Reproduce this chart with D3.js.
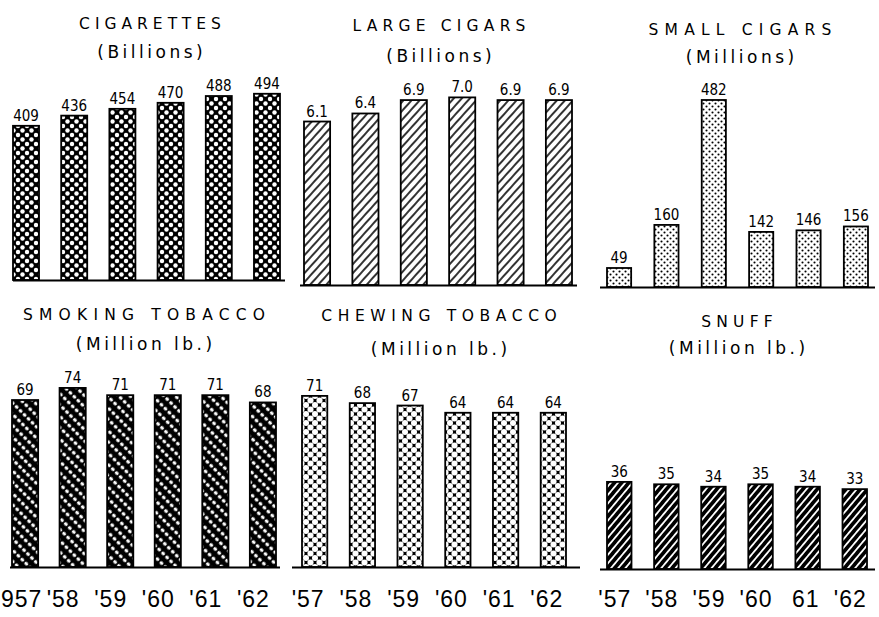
<!DOCTYPE html>
<html><head><meta charset="utf-8">
<script src="https://cdn.jsdelivr.net/npm/d3@7"></script>
<style>body{margin:0;background:#fff}svg{display:block}</style>
</head><body><svg id="c" width="879" height="617"></svg>
<script>
// ---- data ----
const years = [1957, 1958, 1959, 1960, 1961, 1962];
const cigarettes = [409, 436, 454, 470, 488, 494];
const largeCigars = [6.1, 6.4, 6.9, 7.0, 6.9, 6.9];
const smallCigars = [49, 160, 482, 142, 146, 156];
const smokingTobacco = [69, 74, 71, 71, 71, 68];
const chewingTobacco = [71, 68, 67, 64, 64, 64];
const snuff = [36, 35, 34, 35, 34, 33];
const titles = ["CIGARETTES", "LARGE CIGARS", "SMALL CIGARS", "SMOKING TOBACCO", "CHEWING TOBACCO", "SNUFF"];
const units = ["(Billions)", "(Billions)", "(Millions)", "(Million lb.)", "(Million lb.)", "(Million lb.)"];
const yearLabelsSmoking = ["957", "'58", "'59", "'60", "'61", "'62"];
const yearLabelsChewing = ["'57", "'58", "'59", "'60", "'61", "'62"];
const yearLabelsSnuff = ["'57", "'58", "'59", "'60", "61", "'62"];

// ---- layout ----
const panels = [
  {values: cigarettes, fmt: d3.format("d"), x0: 13, x1: 280, pad: 0.46, base: 280, k: 0.377, tx: 150, ty: 29, sy: 58, ls: 5, fill: "pCig", ax: [13, 285]},
  {values: largeCigars, fmt: d3.format(".1f"), x0: 304, x1: 572, pad: 0.46, base: 285, k: 26.8, tx: 439, ty: 31, sy: 62, ls: 5.2, fill: "pHatch", ax: [300, 577]},
  {values: smallCigars, fmt: d3.format("d"), x0: 607, x1: 868, pad: 0.49, base: 287, k: 0.388, tx: 740, ty: 35, sy: 63, ls: 6.2, fill: "pDots", ax: [600, 875]},
  {values: smokingTobacco, fmt: d3.format("d"), x0: 12, x1: 276, pad: 0.45, base: 567, k: 2.42, tx: 144, ty: 320, sy: 350, ls: 6.2, fill: "pSmoke", ax: [10, 280], yl: yearLabelsSmoking, yo: 6},
  {values: chewingTobacco, fmt: d3.format("d"), x0: 302, x1: 566, pad: 0.47, base: 567, k: 2.41, tx: 439, ty: 321, sy: 355, ls: 5.6, fill: "pChew", ax: [292, 580], yl: yearLabelsChewing, yo: 9},
  {values: snuff, fmt: d3.format("d"), x0: 607, x1: 867, pad: 0.48, base: 569, k: 2.42, tx: 737, ty: 327, sy: 354, ls: 5.2, fill: "pSnuff", ax: [600, 875], yl: yearLabelsSnuff, yo: 11}
];

const svg = d3.select("#c");
const defs = svg.append("defs");

function pat(id, w, h, tf) {
  const p = defs.append("pattern").attr("id", id).attr("patternUnits", "userSpaceOnUse")
    .attr("width", w).attr("height", h);
  if (tf) p.attr("patternTransform", tf);
  return p;
}
// cigarettes: black with white dots in diagonal lattice
let p = pat("pCig", 9, 9);
p.append("rect").attr("width", 9).attr("height", 9).attr("fill", "#000");
[[0,0],[9,0],[0,9],[9,9],[4.5,4.5]].forEach(c => p.append("circle").attr("cx", c[0]).attr("cy", c[1]).attr("r", 2.2).attr("fill", "#fff"));

// large cigars: diagonal hatch
p = pat("pHatch", 6, 6, "rotate(42)");
p.append("rect").attr("width", 6).attr("height", 6).attr("fill", "#fff");
p.append("line").attr("x1", 1).attr("x2", 1).attr("y1", 0).attr("y2", 6).attr("stroke", "#000").attr("stroke-width", 1.6);

// small cigars: fine dots
p = pat("pDots", 6, 6);
p.append("rect").attr("width", 6).attr("height", 6).attr("fill", "#fff");
[[1.5,1.5],[4.5,4.5]].forEach(c => p.append("circle").attr("cx", c[0]).attr("cy", c[1]).attr("r", 1.05).attr("fill", "#000"));

// smoking tobacco: black with white dashes along "\" diagonals
p = pat("pSmoke", 8, 5.6, "rotate(-45)");
p.append("rect").attr("width", 8).attr("height", 5.6).attr("fill", "#000");
p.append("ellipse").attr("cx", 4).attr("cy", 2.8).attr("rx", 1.7).attr("ry", 2.0).attr("fill", "#fff");

// chewing tobacco: white circles on black lattice
p = pat("pChew", 9, 9);
p.append("rect").attr("width", 9).attr("height", 9).attr("fill", "#000");
[[0,0],[9,0],[0,9],[9,9],[4.5,4.5]].forEach(c => p.append("circle").attr("cx", c[0]).attr("cy", c[1]).attr("r", 3.05).attr("fill", "#fff"));

// snuff: black with white "/" stripes
p = pat("pSnuff", 5.5, 5.5, "rotate(40)");
p.append("rect").attr("width", 5.5).attr("height", 5.5).attr("fill", "#000");
p.append("line").attr("x1", 2.75).attr("x2", 2.75).attr("y1", 0).attr("y2", 5.5).attr("stroke", "#fff").attr("stroke-width", 1.8);

const titleFont = "'DejaVu Sans', sans-serif";

panels.forEach((P, i) => {
  const g = svg.append("g");
  const x = d3.scaleBand().domain(years).range([P.x0, P.x1]).paddingInner(P.pad).paddingOuter(0);
  const maxV = d3.max(P.values) * 1.1;
  const y = d3.scaleLinear().domain([0, maxV]).range([P.base, P.base - P.k * maxV]);

  g.selectAll("rect.bar").data(years).join("rect").attr("class", "bar")
    .attr("x", d => x(d)).attr("width", x.bandwidth())
    .attr("y", (d, j) => y(P.values[j])).attr("height", (d, j) => y(0) - y(P.values[j]))
    .attr("fill", `url(#${P.fill})`).attr("stroke", "#000").attr("stroke-width", 1.8);

  g.selectAll("text.val").data(years).join("text").attr("class", "val")
    .attr("x", d => x(d) + x.bandwidth() / 2).attr("y", (d, j) => y(P.values[j]) - 5)
    .attr("text-anchor", "middle").attr("font-family", "'Liberation Sans Narrow', 'DejaVu Sans Condensed', sans-serif")
    .attr("font-size", 15).attr("fill", "#000").text((d, j) => P.fmt(P.values[j]));

  g.append("line").attr("x1", P.ax[0]).attr("x2", P.ax[1]).attr("y1", y(0) + 0.5).attr("y2", y(0) + 0.5)
    .attr("stroke", "#000").attr("stroke-width", 2.2);

  g.append("text").attr("x", P.tx).attr("y", P.ty).attr("dx", P.ls / 2).attr("text-anchor", "middle")
    .attr("font-family", titleFont).attr("font-size", 15.5).attr("letter-spacing", P.ls)
    .text(titles[i]);
  g.append("text").attr("x", P.tx).attr("y", P.sy).attr("dx", 1.75).attr("text-anchor", "middle")
    .attr("font-family", titleFont).attr("font-size", 17).attr("letter-spacing", 3.5)
    .text(units[i]);

  if (P.yl) {
    g.selectAll("text.yr").data(years).join("text").attr("class", "yr")
      .attr("x", d => x(d) + x.bandwidth() / 2 + P.yo + 1).attr("y", 607)
      .attr("text-anchor", "end").attr("font-family", "'Liberation Sans', sans-serif")
      .attr("letter-spacing", 1).attr("font-size", 23).text((d, j) => P.yl[j])
      .each(function() {
        // keep each label inside the picture
        const bb = this.getBBox();
        if (bb.x < 1) {
          d3.select(this).attr("text-anchor", "start").attr("x", 1);
        }
      });
  }
});
</script></body></html>
